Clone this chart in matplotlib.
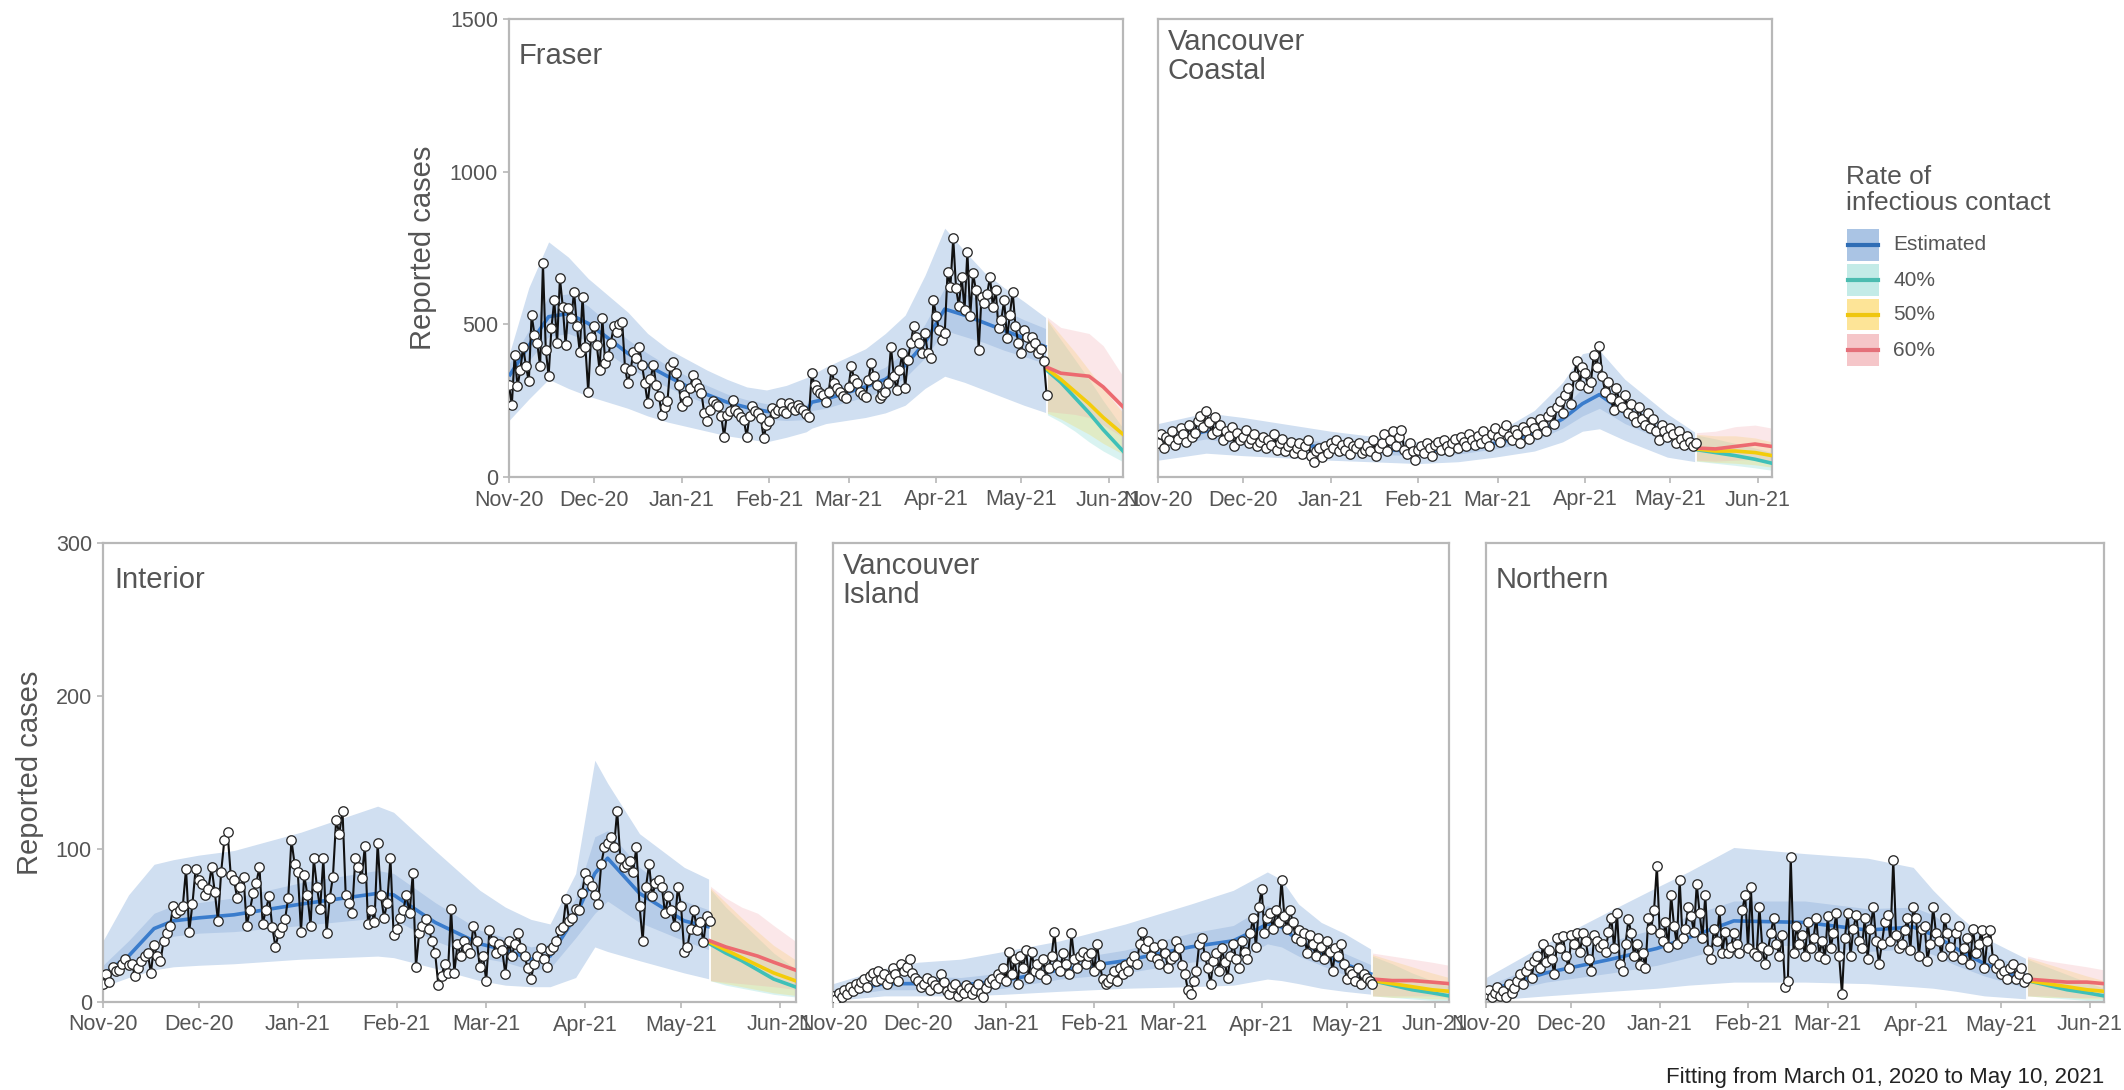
import numpy as np
import matplotlib
matplotlib.use("Agg")
import matplotlib.pyplot as plt
import matplotlib.dates as mdates
from matplotlib.patches import Rectangle
from matplotlib.lines import Line2D

plt.rcParams['font.family'] = ['Liberation Sans', 'DejaVu Sans']

START = np.datetime64('2020-11-01')
XMAX_DAY = 217

# ---------------- data: daily reported cases (Nov 1 2020 .. May 10 2021) -------------
fraser_cases = [300, 236, 400, 297, 350, 427, 362, 313, 531, 466, 438, 362, 700, 416, 330, 488, 580, 438, 651, 558,
                433, 553, 520, 607, 493, 411, 591, 427, 279, 460, 493, 433, 351, 520, 373, 395, 440, 493, 476, 500,
                509, 357, 307, 351, 411, 390, 427, 367, 307, 242, 320, 367, 302, 264, 204, 230, 248, 362, 378, 340,
                300, 231, 269, 250, 291, 335, 307, 290, 275, 209, 182, 220, 248, 240, 231, 200, 132, 204, 215, 253,
                220, 209, 195, 187, 132, 200, 231, 215, 209, 193, 127, 170, 182, 226, 210, 220, 242, 215, 209, 242,
                230, 220, 237, 225, 220, 205, 198, 340, 300, 286, 274, 269, 247, 280, 351, 307, 290, 280, 265, 258,
                296, 362, 320, 307, 280, 270, 263, 318, 373, 330, 302, 258, 270, 280, 307, 427, 330, 285, 351, 405,
                291, 384, 440, 493, 460, 438, 405, 471, 405, 389, 580, 526, 480, 449, 471, 672, 623, 782, 618, 560,
                656, 547, 738, 526, 667, 613, 416, 591, 569, 600, 656, 558, 613, 487, 515, 580, 454, 530, 607, 493,
                438, 405, 482, 460, 427, 460, 440, 405, 420, 380, 270]

vc_cases = [110, 140, 95, 130, 120, 150, 105, 125, 160, 140, 115, 170, 130, 145, 185, 200, 165, 215, 180, 140,
            195, 150, 170, 120, 150, 135, 165, 100, 145, 120, 130, 155, 110, 125, 140, 100, 115, 130, 95, 120,
            105, 140, 90, 110, 125, 85, 100, 115, 80, 95, 110, 75, 100, 120, 70, 50, 85, 95, 65, 100,
            80, 110, 95, 120, 85, 105, 90, 115, 75, 100, 95, 110, 80, 90, 100, 85, 120, 70, 95, 110,
            140, 85, 120, 150, 100, 130, 155, 90, 75, 110, 85, 55, 90, 100, 80, 110, 95, 70, 105, 115,
            90, 120, 100, 85, 110, 125, 95, 130, 115, 100, 140, 120, 105, 135, 110, 150, 125, 100, 140, 160,
            130, 115, 150, 170, 135, 120, 155, 140, 110, 165, 150, 125, 180, 160, 140, 190, 170, 150, 200, 215,
            175, 230, 250, 210, 270, 290, 240, 330, 380, 300, 360, 340, 290, 310, 400, 360, 430, 330, 280, 310,
            260, 220, 290, 250, 230, 270, 210, 240, 200, 180, 230, 190, 170, 210, 160, 190, 150, 120, 170, 150,
            130, 160, 140, 110, 150, 125, 105, 135, 115, 100, 110]

interior_cases = [12, 18, 13, 23, 20, 21, 25, 28, 24, 25, 17, 22, 27, 30, 32, 19, 37, 30, 27, 40,
                  45, 50, 63, 58, 60, 63, 87, 46, 64, 87, 80, 77, 70, 74, 88, 72, 53, 85, 106, 111,
                  83, 80, 68, 75, 82, 50, 60, 71, 78, 88, 51, 60, 69, 49, 36, 45, 49, 54, 68, 106,
                  90, 85, 46, 83, 70, 50, 94, 75, 61, 94, 45, 68, 82, 119, 110, 125, 70, 65, 58, 94,
                  88, 81, 102, 51, 60, 52, 104, 70, 55, 65, 94, 44, 48, 55, 60, 70, 58, 84, 23, 45,
                  50, 54, 48, 40, 32, 11, 17, 25, 19, 61, 19, 38, 30, 40, 35, 32, 50, 40, 23, 30,
                  14, 47, 40, 32, 38, 34, 18, 40, 30, 38, 45, 35, 30, 22, 15, 25, 30, 35, 28, 23,
                  34, 36, 40, 47, 49, 67, 53, 55, 61, 60, 71, 84, 80, 76, 70, 64, 90, 101, 104, 108,
                  101, 125, 94, 88, 90, 92, 85, 101, 63, 40, 75, 90, 69, 78, 80, 75, 58, 69, 60, 50,
                  75, 63, 33, 36, 48, 60, 47, 52, 39, 56, 53]

vi_cases = [4, 2, 6, 3, 8, 5, 10, 7, 12, 9, 13, 15, 10, 17, 19, 14, 20, 15, 18, 12,
            16, 22, 18, 14, 25, 20, 23, 28, 19, 16, 14, 10, 12, 16, 8, 14, 11, 9, 18, 13,
            7, 5, 10, 12, 4, 8, 6, 11, 9, 5, 8, 12, 6, 3, 9, 13, 15, 12, 18, 16,
            22, 14, 33, 18, 28, 12, 30, 22, 34, 16, 33, 20, 25, 18, 28, 15, 22, 30, 46, 24,
            20, 32, 25, 18, 45, 28, 22, 30, 33, 25, 30, 32, 20, 38, 24, 15, 12, 13, 16, 20,
            14, 22, 18, 24, 20, 27, 30, 25, 38, 46, 35, 40, 30, 36, 28, 25, 38, 32, 22, 28,
            30, 40, 35, 24, 18, 8, 5, 14, 20, 38, 42, 30, 22, 12, 27, 32, 20, 35, 26, 16,
            30, 38, 28, 22, 40, 33, 28, 45, 55, 36, 62, 74, 45, 55, 58, 48, 60, 52, 80, 56,
            48, 60, 52, 42, 47, 40, 45, 32, 44, 38, 30, 42, 36, 28, 40, 33, 20, 35, 30, 38,
            25, 15, 20, 18, 14, 22, 12, 18, 16, 14, 12]

northern_cases = [5, 8, 3, 6, 10, 4, 7, 3, 12, 6, 9, 14, 18, 12, 20, 24, 16, 27, 30, 22,
                  38, 26, 34, 28, 18, 42, 35, 43, 30, 22, 44, 38, 45, 33, 45, 40, 28, 20, 44, 40,
                  36, 38, 33, 46, 55, 35, 58, 25, 20, 38, 54, 45, 30, 38, 24, 32, 22, 55, 48, 60,
                  89, 45, 40, 52, 36, 70, 50, 38, 80, 42, 48, 62, 56, 46, 77, 58, 42, 70, 34, 28,
                  48, 40, 60, 32, 46, 32, 36, 45, 38, 32, 60, 70, 35, 75, 32, 30, 62, 36, 25, 34,
                  45, 55, 38, 30, 44, 10, 14, 95, 32, 50, 38, 44, 30, 52, 35, 42, 55, 30, 40, 28,
                  56, 35, 45, 58, 30, 5, 42, 58, 30, 48, 57, 40, 35, 55, 28, 48, 62, 40, 25, 38,
                  52, 57, 40, 93, 44, 35, 38, 47, 55, 34, 62, 55, 30, 48, 50, 27, 38, 62, 45, 40,
                  30, 55, 45, 36, 30, 45, 50, 28, 35, 42, 25, 48, 32, 38, 47, 22, 40, 47, 28, 22,
                  25, 18, 20, 15, 22, 25, 15, 18, 22, 13, 16]

# ---------------- model fit: median, 90% and 50% intervals (knot days since Nov 1) --------
fraser_knots = [0, 7, 14, 21, 28, 35, 42, 49, 56, 63, 70, 77, 84, 91, 98, 105, 107, 112, 119, 126, 133, 140, 147, 154, 161, 168, 175, 182, 190]
fraser_med   = [330, 430, 525, 535, 503, 455, 405, 365, 330, 297, 270, 245, 228, 215, 209, 212, 245, 255, 275, 295, 320, 365, 440, 550, 530, 505, 480, 455, 425]
fraser_hi90  = [400, 620, 770, 720, 650, 595, 540, 470, 420, 385, 350, 320, 295, 285, 300, 325, 335, 360, 390, 420, 470, 530, 660, 815, 740, 670, 620, 575, 520]
fraser_lo90  = [185, 255, 320, 290, 265, 245, 225, 200, 180, 165, 150, 135, 125, 115, 130, 148, 160, 175, 185, 195, 210, 235, 290, 330, 310, 285, 260, 235, 210]
fraser_hi50  = [370, 480, 590, 600, 560, 505, 450, 405, 365, 330, 300, 272, 253, 240, 233, 236, 272, 285, 305, 330, 360, 410, 500, 620, 600, 575, 545, 515, 485]
fraser_lo50  = [290, 380, 460, 470, 445, 405, 360, 325, 295, 265, 240, 218, 203, 190, 185, 188, 218, 225, 245, 262, 285, 325, 390, 480, 460, 440, 415, 395, 370]

vc_knots = [0, 17, 30, 61, 92, 106, 119, 133, 143, 150, 156, 165, 180, 190]
vc_med   = [115, 150, 125, 95, 85, 90, 110, 140, 190, 240, 270, 210, 140, 110]
vc_hi90  = [175, 210, 195, 150, 115, 115, 142, 218, 310, 404, 415, 320, 207, 145]
vc_lo90  = [55, 78, 70, 55, 44, 50, 65, 85, 115, 150, 158, 120, 65, 50]
vc_hi50  = [135, 175, 148, 112, 100, 103, 126, 165, 225, 290, 320, 250, 165, 128]
vc_lo50  = [95, 125, 105, 78, 70, 75, 92, 118, 160, 200, 225, 175, 115, 90]

interior_knots = [0, 8, 16, 22, 30, 41, 62, 86, 91, 104, 118, 126, 134, 140, 148, 154, 158, 168, 182, 190]
interior_med   = [18, 30, 48, 53, 55, 57, 64, 71, 70, 52, 38, 34, 28, 30, 56, 84, 94, 71, 53, 49]
interior_hi90  = [40, 70, 90, 93, 96, 99, 111, 128, 124, 99, 73, 62, 54, 51, 84, 158, 143, 110, 88, 80]
interior_lo90  = [10, 16, 21, 23, 24, 25, 28, 30, 29, 22, 14, 11, 10, 10, 16, 36, 33, 27, 19, 15]
interior_hi50  = [24, 40, 58, 63, 65, 68, 78, 86, 84, 65, 47, 42, 36, 38, 68, 108, 112, 88, 66, 60]
interior_lo50  = [14, 24, 38, 43, 45, 46, 50, 55, 54, 40, 29, 26, 21, 22, 42, 58, 66, 52, 40, 34]

vi_knots = [0, 18, 30, 45, 60, 80, 103, 126, 141, 150, 153, 158, 164, 172, 180, 190]
vi_med   = [5, 12, 12, 11, 14, 21, 27, 36, 40, 48, 51, 49, 40, 32, 25, 18]
vi_hi90  = [12, 22, 26, 28, 33, 40, 51, 64, 73, 82, 85, 80, 64, 52, 45, 34]
vi_lo90  = [1, 4, 4, 4, 5, 7, 9, 10, 11, 14, 15, 14, 12, 9, 7, 5]
vi_hi50  = [8, 16, 17, 16, 19, 27, 34, 45, 50, 60, 63, 60, 50, 40, 32, 24]
vi_lo50  = [3, 8, 8, 7, 9, 15, 19, 26, 29, 35, 38, 36, 30, 24, 18, 13]

northern_knots = [0, 21, 44, 60, 71, 87, 112, 134, 150, 157, 165, 175, 190]
northern_med   = [7, 19, 28, 35, 42, 53, 52, 47, 49, 44, 35, 25, 14]
northern_hi90  = [16, 38, 60, 75, 85, 101, 97, 94, 88, 73, 58, 42, 28]
northern_lo90  = [1, 4, 7, 9, 11, 13, 13, 12, 10, 9, 7, 4, 2]
northern_hi50  = [10, 27, 40, 48, 56, 66, 66, 61, 62, 57, 46, 34, 20]
northern_lo50  = [4, 13, 19, 24, 29, 37, 37, 33, 35, 31, 24, 17, 9]

# ---------------- projections (40% / 50% / 60% rate of infectious contact) ----------------
fraser_pdays = [190, 195, 200, 205, 210, 217]
fraser_p40 = dict(med=[350, 310, 260, 210, 155, 85], lo=[205, 180, 150, 115, 85, 50], hi=[515, 450, 385, 320, 250, 160])
fraser_p50 = dict(med=[355, 320, 280, 240, 195, 140], lo=[210, 190, 165, 140, 110, 75], hi=[520, 465, 410, 350, 290, 210])
fraser_p60 = dict(med=[360, 340, 335, 330, 295, 230], lo=[215, 210, 205, 195, 170, 130], hi=[525, 490, 480, 470, 430, 330])

vc_pdays = [190, 197, 204, 211, 217]
vc_p40 = dict(med=[90, 80, 70, 58, 45], lo=[52, 45, 38, 30, 22], hi=[138, 125, 110, 95, 80])
vc_p50 = dict(med=[92, 85, 85, 80, 70], lo=[53, 48, 45, 40, 32], hi=[140, 135, 135, 128, 115])
vc_p60 = dict(med=[95, 92, 100, 108, 100], lo=[55, 52, 55, 58, 50], hi=[145, 150, 165, 170, 160])

interior_pdays = [190, 195, 200, 205, 210, 218]
interior_p40 = dict(med=[38, 32, 27, 21, 15, 9], lo=[14, 11, 9, 7, 5, 3], hi=[74, 62, 52, 42, 32, 20])
interior_p50 = dict(med=[39, 34, 29, 24, 19, 13], lo=[14, 12, 10, 8, 6, 4], hi=[75, 65, 55, 46, 37, 26])
interior_p60 = dict(med=[40, 36, 33, 30, 26, 20], lo=[14, 13, 12, 11, 10, 8], hi=[76, 68, 62, 58, 50, 38])

vi_pdays = [190, 197, 204, 211, 217]
vi_p40 = dict(med=[14, 11, 8, 6, 4], lo=[4, 3, 2, 1, 1], hi=[30, 25, 19, 14, 10])
vi_p50 = dict(med=[14, 12, 10, 8, 7], lo=[4, 3, 3, 2, 2], hi=[31, 27, 23, 19, 16])
vi_p60 = dict(med=[15, 14, 14, 13, 12], lo=[4, 4, 4, 4, 3], hi=[32, 30, 28, 26, 24])

northern_pdays = [190, 197, 204, 211, 217]
northern_p40 = dict(med=[14, 11, 8, 6, 4], lo=[4, 3, 2, 1, 1], hi=[28, 23, 18, 13, 9])
northern_p50 = dict(med=[14, 12, 10, 8, 7], lo=[4, 3, 3, 2, 2], hi=[29, 25, 21, 17, 14])
northern_p60 = dict(med=[15, 14, 13, 13, 12], lo=[4, 4, 3, 3, 3], hi=[30, 27, 25, 23, 21])

legend_labels = ['Estimated', '40%', '50%', '60%']
legend_title = 'Rate of\ninfectious contact'
footer = 'Fitting from March 01, 2020 to May 10, 2021'

# ---------------- styling ----------------
EST_OUTER = '#d0dff1'
EST_INNER = '#b6cce8'
EST_LINE = '#3a7ccc'
SCEN = {
    '40': dict(line='#3fc0b8', fill='#6fd3cb'),
    '50': dict(line='#f3cc0a', fill='#f6d64a'),
    '60': dict(line='#ec6a70', fill='#f2a6aa'),
}
SPINE = '#b8b8b8'
TXT = '#555555'


def to_dates(days):
    return START + np.asarray(days).astype('timedelta64[D]')


def draw_panel(ax, title, cases, knots, med, lo90, hi90, lo50, hi50, pdays, p40, p50, p60, ymax, yticks):
    kd = to_dates(knots)
    ax.fill_between(kd, lo90, hi90, color=EST_OUTER, lw=0, zorder=1)
    ax.fill_between(kd, lo50, hi50, color=EST_INNER, lw=0, zorder=1.5)
    ax.plot(kd, med, color=EST_LINE, lw=2.6, zorder=3, solid_capstyle='butt')

    pd_ = to_dates(pdays)
    for key, p in (('40', p40), ('50', p50), ('60', p60)):
        ax.fill_between(pd_, p['lo'], p['hi'], color=SCEN[key]['fill'], alpha=0.26, lw=0, zorder=2)
    ax.axvline(pd_[0], color='white', lw=1.3, zorder=2.5)
    for key, p in (('40', p40), ('50', p50), ('60', p60)):
        ax.plot(pd_, p['med'], color=SCEN[key]['line'], lw=2.6, zorder=3)

    dd = to_dates(np.arange(len(cases)))
    ax.plot(dd, cases, color='#111111', lw=1.5, zorder=4)
    ax.plot(dd, cases, 'o', ms=6.8, mfc='white', mec='#2a2a2a', mew=0.95, zorder=5)

    ax.set_xlim(START, START + np.timedelta64(XMAX_DAY, 'D'))
    ax.set_ylim(0, ymax)
    ax.xaxis.set_major_locator(mdates.MonthLocator())
    ax.xaxis.set_major_formatter(mdates.DateFormatter('%b-%y'))
    ax.set_yticks(yticks)
    for s in ax.spines.values():
        s.set_color(SPINE)
        s.set_linewidth(1.6)
    ax.tick_params(axis='both', colors=SPINE, labelcolor=TXT, length=4, width=1.2, labelsize=15.5)
    ax.tick_params(axis='x', pad=5)
    ax.tick_params(axis='y', pad=4)
    ax.text(0.016, 0.919, title, transform=ax.transAxes, ha='left', va='center',
            fontsize=21, color=TXT, linespacing=1.05, zorder=6)


W, H = 2124, 1090
fig = plt.figure(figsize=(W / 100, H / 100), dpi=100)
fig.patch.set_facecolor('white')


def add_axes(left, right, top, bottom):
    return fig.add_axes([left / W, 1 - bottom / H, (right - left) / W, (bottom - top) / H])


ax_fr = add_axes(509, 1123, 19, 477)
ax_vc = add_axes(1158, 1772, 19, 477)
ax_in = add_axes(103, 796, 543, 1002)
ax_vi = add_axes(833, 1449, 543, 1002)
ax_no = add_axes(1486, 2104, 543, 1002)

top_ticks = [0, 500, 1000, 1500]
bot_ticks = [0, 100, 200, 300]

draw_panel(ax_fr, 'Fraser', fraser_cases, fraser_knots, fraser_med, fraser_lo90, fraser_hi90, fraser_lo50, fraser_hi50,
           fraser_pdays, fraser_p40, fraser_p50, fraser_p60, 1500, top_ticks)
draw_panel(ax_vc, 'Vancouver\nCoastal', vc_cases, vc_knots, vc_med, vc_lo90, vc_hi90, vc_lo50, vc_hi50,
           vc_pdays, vc_p40, vc_p50, vc_p60, 1500, top_ticks)
draw_panel(ax_in, 'Interior', interior_cases, interior_knots, interior_med, interior_lo90, interior_hi90,
           interior_lo50, interior_hi50, interior_pdays, interior_p40, interior_p50, interior_p60, 300, bot_ticks)
draw_panel(ax_vi, 'Vancouver\nIsland', vi_cases, vi_knots, vi_med, vi_lo90, vi_hi90, vi_lo50, vi_hi50,
           vi_pdays, vi_p40, vi_p50, vi_p60, 300, bot_ticks)
draw_panel(ax_no, 'Northern', northern_cases, northern_knots, northern_med, northern_lo90, northern_hi90,
           northern_lo50, northern_hi50, northern_pdays, northern_p40, northern_p50, northern_p60, 300, bot_ticks)

for ax in (ax_vc, ax_vi, ax_no):
    ax.tick_params(axis='y', left=False, labelleft=False)

for ax, xc in ((ax_fr, -0.140), (ax_in, -0.105)):
    ax.set_ylabel('Reported cases', fontsize=21, color=TXT, va='center')
    ax.yaxis.set_label_coords(xc, 0.5)

# ---------------- legend (drawn in figure pixel coordinates) ----------------
key_fill = ['#aac4e4', '#c3ebe7', '#fde497', '#f5c6c9']
key_line = ['#2f6db5', '#4cbcb0', '#efc60f', '#e4707a']
fig.text(1846 / W, 1 - 190 / H, legend_title, ha='left', va='center', fontsize=19,
         color=TXT, linespacing=1.08)
key_x0, key_w, key_h = 1847, 32, 31
for i, (lab, fc, lc) in enumerate(zip(legend_labels, key_fill, key_line)):
    yc = 245 + i * 35
    fig.add_artist(Rectangle((key_x0 / W, 1 - (yc + key_h / 2) / H), key_w / W, key_h / H,
                             transform=fig.transFigure, facecolor=fc, edgecolor='none'))
    fig.add_artist(Line2D([(key_x0 + 1) / W, (key_x0 + key_w - 1) / W], [1 - yc / H, 1 - yc / H],
                          transform=fig.transFigure, color=lc, lw=3))
    fig.text(1893 / W, 1 - yc / H, lab, ha='left', va='center', fontsize=15, color=TXT)

fig.text(2104 / W, 1 - 1077 / H, footer, ha='right', va='center', fontsize=16, color='#222222')

fig.savefig('out.png', dpi=100, facecolor='white')
